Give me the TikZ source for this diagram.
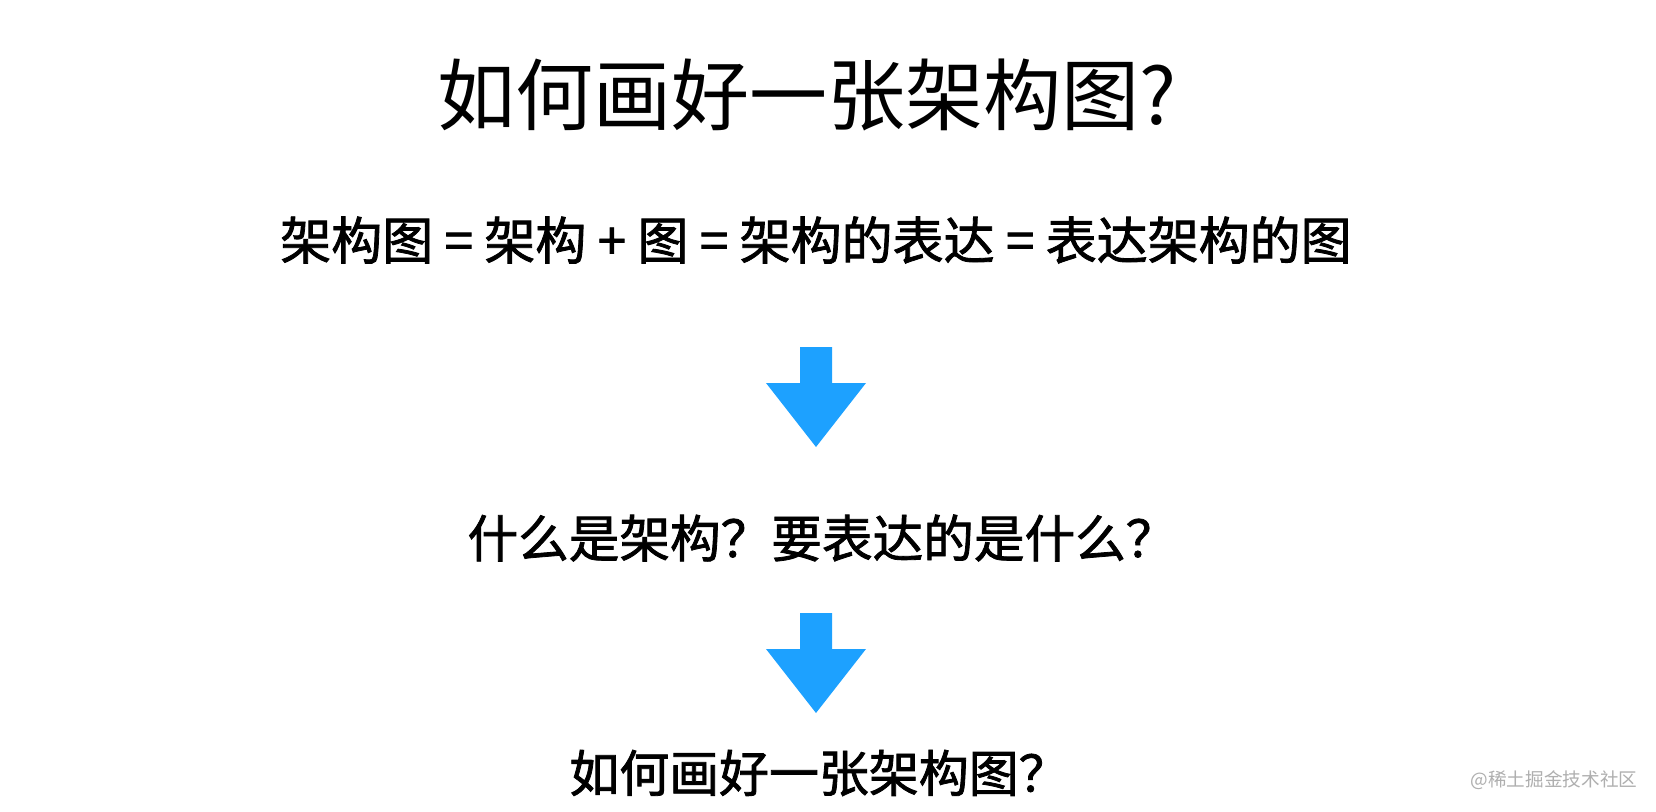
\documentclass[tikz,border=0pt]{standalone}
\usepackage{fontspec}
\newfontfamily\cjk{Noto Sans CJK SC}
\newfontfamily\cjkhand[FakeBold=1.6]{Noto Sans CJK SC}
\usetikzlibrary{positioning}
\definecolor{arrowblue}{RGB}{29,161,255}
\definecolor{markgrey}{RGB}{175,175,175}

\begin{document}
\begin{tikzpicture} [x=0.01cm, y=-0.01cm,
 			      title/.style={font=\cjk\fontsize{22.2}{26}\selectfont, inner sep=0pt},
 			      line/.style={font=\cjkhand\fontsize{14.4}{18}\selectfont, inner sep=0pt},
 			      watermark/.style={font=\cjk\fontsize{5.3}{7}\selectfont, text=markgrey, inner sep=0pt},
 			      blockarrow/.style={fill=arrowblue}]
    \useasboundingbox[fill=white] (0,0) rectangle (1656,812);
    \node[title] (head) at (807,95) {如何画好一张架构图?};
    \node[line, font=\cjkhand\fontsize{14.5}{18}\selectfont] (formula) at (816,240) {架构图 = 架构 + 图 = 架构的表达 = 表达架构的图};
    \node[line] (question) at (822,538) {什么是架构？要表达的是什么？};
    \node[line, font=\cjkhand\fontsize{14.2}{18}\selectfont] (goal) at (819,773) {如何画好一张架构图？};
    \node[watermark] (juejin) at (1554,780) {@稀土掘金技术社区};
    % block arrows between the lines
    \coordinate (top1) at (816,347);
    \coordinate (top2) at (816,613);
    \foreach \a in {top1,top2}
      \fill[blockarrow] (\a) ++(-16,0) -- ++(32,0) -- ++(0,36) -- ++(34,0)
        -- ++(-50,64) -- ++(-50,-64) -- ++(34,0) -- cycle;

\end{tikzpicture}
\end{document}
